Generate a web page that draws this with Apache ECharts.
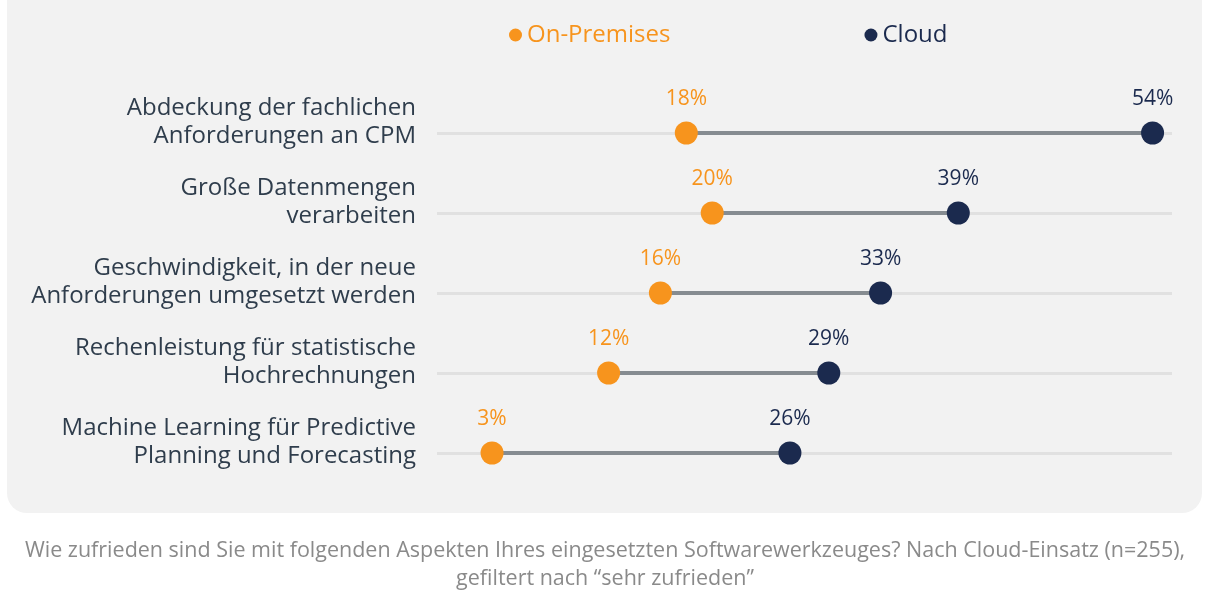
<!DOCTYPE html>
<html>
<head>
<meta charset="utf-8">
<script src="https://cdn.jsdelivr.net/npm/echarts@6/dist/echarts.min.js"></script>
<style>
  html, body { margin: 0; padding: 0; background: #fff; }
  #chart { width: 1210px; height: 600px; }
</style>
</head>
<body>
<div id="chart"></div>
<script>
(function() {
    const categories = [
        'Abdeckung der fachlichen\nAnforderungen an CPM',
        'Große Datenmengen\nverarbeiten',
        'Geschwindigkeit, in der neue\nAnforderungen umgesetzt werden',
        'Rechenleistung für statistische\nHochrechnungen',
        'Machine Learning für Predictive\nPlanning und Forecasting'
    ];
    const onPremises = [18, 20, 16, 12, 3];
    const cloud = [54, 39, 33, 29, 26];
    const caption = 'Wie zufrieden sind Sie mit folgenden Aspekten Ihres eingesetzten Softwarewerkzeuges? Nach Cloud-Einsatz (n=255),\ngefiltert nach \u201csehr zufrieden\u201d';

    const orange = '#f7941d';
    const navy = '#1b2a4e';
    const font = '"Open Sans", sans-serif';

    const gap = cloud.map((v, i) => v - onPremises[i]);

    const chart = echarts.init(document.getElementById('chart'));
    chart.setOption({
        animation: false,
        textStyle: { fontFamily: font },
        graphic: [
            {
                type: 'rect', z: -10, silent: true,
                shape: { x: 7, y: -25, width: 1195, height: 538, r: 20 },
                style: { fill: '#f2f2f2' }
            },
            {
                type: 'text', silent: true,
                x: 605, y: 537,
                style: {
                    text: caption, fill: '#8a8a8a', font: '21.5px ' + font,
                    align: 'center', verticalAlign: 'top', lineHeight: 28
                }
            }
        ],
        legend: {
            top: 18, left: 504,
            itemGap: 194, itemWidth: 13, itemHeight: 13,
            icon: 'circle',
            data: [
                { name: 'On-Premises', textStyle: { color: orange } },
                { name: 'Cloud', textStyle: { color: navy } }
            ],
            textStyle: { fontSize: 24, fontFamily: font }
        },
        grid: { left: 437, right: 38, top: 133, bottom: 147 },
        xAxis: {
            type: 'value', min: -1.25, max: 55.5,
            show: false
        },
        yAxis: {
            type: 'category', data: categories, inverse: true,
            boundaryGap: false,
            axisLine: { show: false }, axisTick: { show: false },
            splitLine: { show: true, lineStyle: { color: '#e1e1e1', width: 3 } },
            axisLabel: {
                color: '#2f3d4c', fontSize: 24, lineHeight: 28,
                align: 'right', margin: 21, fontFamily: font,
                formatter: v => v + '\n{s|}',
                rich: { s: { lineHeight: 22, fontSize: 10 } }
            }
        },
        series: [
            {
                type: 'bar', stack: 'span', silent: true, barWidth: 4,
                itemStyle: { color: 'transparent' },
                data: onPremises
            },
            {
                type: 'bar', stack: 'span', silent: true, barWidth: 4,
                itemStyle: { color: '#868c91' },
                data: gap
            },
            {
                name: 'On-Premises', type: 'scatter', symbolSize: 23, z: 5,
                itemStyle: { color: orange, opacity: 1 },
                label: {
                    show: true, position: 'top', distance: 12,
                    formatter: p => p.value[0] + '%', color: orange, fontSize: 21, fontFamily: font
                },
                data: onPremises.map((v, i) => [v, categories[i]])
            },
            {
                name: 'Cloud', type: 'scatter', symbolSize: 23, z: 5,
                itemStyle: { color: navy, opacity: 1 },
                label: {
                    show: true, position: 'top', distance: 12,
                    formatter: p => p.value[0] + '%', color: navy, fontSize: 21, fontFamily: font
                },
                data: cloud.map((v, i) => [v, categories[i]])
            }
        ]
    });
})();
</script>
</body>
</html>
